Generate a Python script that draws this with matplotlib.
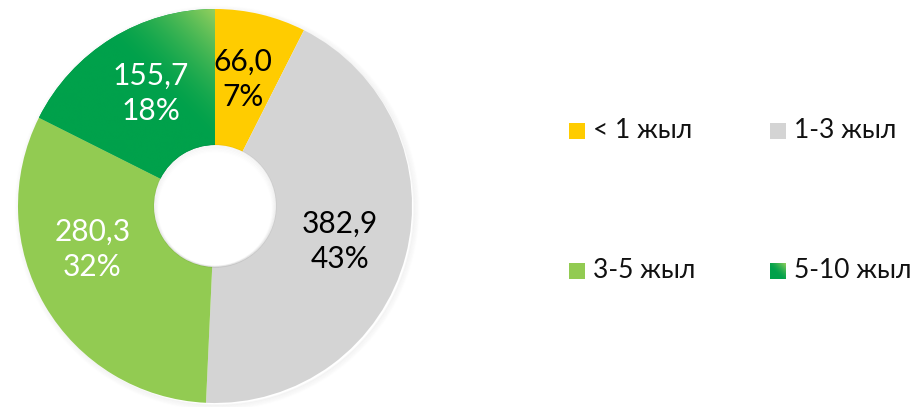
import numpy as np
import matplotlib
matplotlib.use("Agg")
import matplotlib.pyplot as plt
from matplotlib.patches import Rectangle, Circle

plt.rcParams['font.family'] = ['Lato', 'Open Sans', 'DejaVu Sans']

# Portfolio split by term
categories = ["< 1 жыл", "1-3 жыл", "3-5 жыл", "5-10 жыл"]
amounts = [66.0, 382.9, 280.3, 155.7]
colors = ["#FFCC00", "#D4D4D4", "#92CB52", "#00A14B"]
label_colors = ["black", "black", "white", "white"]
label_angle_shift = [1, -1, -11, -2]

LIGHT_GREEN = np.array([0x93, 0xCF, 0x5E]) / 255
DARK_GREEN = np.array([0x00, 0xA1, 0x4B]) / 255

W, H = 920, 407
CX, CY = 215, 201
R_OUT, R_IN = 197, 61

fig = plt.figure(figsize=(W / 100, H / 100), dpi=100)
ax = fig.add_axes([0, 0, 1, 1])
ax.set_xlim(0, W)
ax.set_ylim(0, H)
ax.set_aspect("equal")
ax.axis("off")


def green_gradient(x0, x1, y0, y1, cx, cy, length, n=200):
    # diagonal blend: light at the (cx, cy) corner, dark further down-left
    xs = np.linspace(x0, x1, n)
    ys = np.linspace(y0, y1, n)
    X, Y = np.meshgrid(xs, ys)
    s = ((X - cx) + (Y - cy)) / np.sqrt(2)
    t = np.clip(1 + s / length, 0, 1) ** 1.6
    img = DARK_GREEN[None, None, :] * (1 - t[..., None]) + LIGHT_GREEN[None, None, :] * t[..., None]
    return img


# soft shadow under the ring
for i in range(6):
    ax.add_patch(Circle((CX + 2, CY - 2), R_OUT + i, fill=False, lw=1.2,
                        edgecolor=(0, 0, 0, 0.03 * (6 - i) / 6), zorder=0))

wedges, _ = ax.pie(amounts, colors=colors, startangle=90, counterclock=False,
                   radius=R_OUT, center=(CX, CY),
                   wedgeprops=dict(width=R_OUT - R_IN, linewidth=0))
ax.set_xlim(0, W)
ax.set_ylim(0, H)

# gradient fill on the 5-10 wedge
g = green_gradient(CX - R_OUT, CX, CY, CY + R_OUT, CX, CY + R_OUT, 95)
im = ax.imshow(g, extent=[CX - R_OUT, CX, CY, CY + R_OUT], origin="lower",
               interpolation="bilinear", zorder=2)
im.set_clip_path(wedges[3])

# inner shadow round the hole, a bit stronger at the top
for i in range(6):
    ax.add_patch(Circle((CX, CY - 0.6 * i), R_IN - i * 0.8, fill=False, lw=1.2,
                        edgecolor=(0, 0, 0, 0.035 * (6 - i) / 6), zorder=3))

total = sum(amounts)
for w, v, c, shift in zip(wedges, amounts, label_colors, label_angle_shift):
    mid = np.deg2rad((w.theta1 + w.theta2) / 2 + shift)
    r = 130
    x = CX + r * np.cos(mid)
    y = CY + r * np.sin(mid)
    ax.text(x, y + 17, f"{v:.1f}".replace(".", ","), ha="center", va="center",
            fontsize=21.5, color=c, zorder=4)
    ax.text(x, y - 18, f"{round(100 * v / total)}%", ha="center", va="center",
            fontsize=21.5, color=c, zorder=4)

# legend, two columns
leg_x = [569, 770]
leg_y = [276, 136]
for i, (cat, col) in enumerate(zip(categories, colors)):
    lx = leg_x[i % 2]
    ly = leg_y[i // 2]
    sq = Rectangle((lx, ly - 8), 16, 16, facecolor=col, linewidth=0, zorder=2)
    ax.add_patch(sq)
    if i == 3:
        gs = green_gradient(lx, lx + 16, ly - 8, ly + 8, lx + 16, ly + 8, 14, n=40)
        sim = ax.imshow(gs, extent=[lx, lx + 16, ly - 8, ly + 8], origin="lower",
                        interpolation="bilinear", zorder=3)
        sim.set_clip_path(sq)
    ax.text(lx + 24, ly, cat, ha="left", va="center", fontsize=19, color="#111111")

ax.set_xlim(0, W)
ax.set_ylim(0, H)
fig.savefig("out.png", dpi=100, facecolor="white")
